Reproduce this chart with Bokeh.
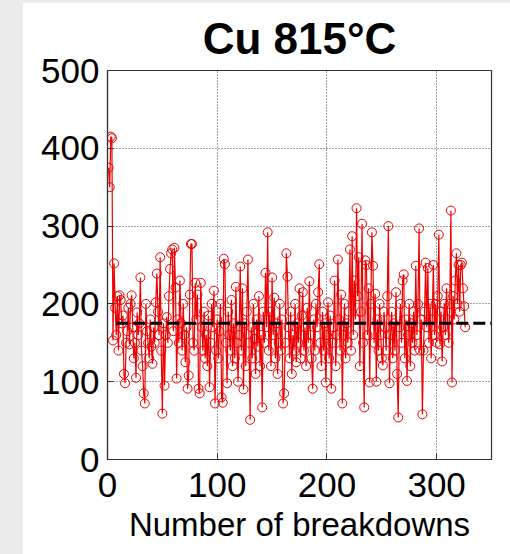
from bokeh.plotting import figure
from bokeh.layouts import column
from bokeh.models import Range1d, FixedTicker
from bokeh.embed import file_html
from bokeh.resources import INLINE

# Labels and axis ticks
title_text = "Cu 815°C"
x_label = "Number of breakdowns"
x_ticks = [0, 100, 200, 300]
y_ticks = [0, 100, 200, 300, 400, 500]
grid_x = [100, 200, 300]
grid_y = [100, 200, 300, 400]

# Breakdown field for each successive breakdown event
breakdown_value = [
    375, 350, 415, 413, 153, 252, 195, 160, 210, 140,
    211, 205, 175, 185, 110, 98, 150, 165, 195, 148,
    200, 211, 170, 130, 150, 105, 189, 160, 175, 234,
    140, 120, 85, 72, 200, 165, 150, 130, 180, 145,
    123, 170, 150, 202, 239, 190, 160, 260, 140, 59,
    175, 95, 160, 183, 150, 210, 245, 265, 270, 165,
    272, 221, 104, 180, 150, 230, 175, 140, 200, 160,
    125, 170, 91, 108, 212, 277, 277, 150, 140, 227,
    180, 212, 91, 85, 227, 170, 140, 190, 130, 160,
    120, 185, 93, 150, 200, 170, 217, 72, 140, 180,
    130, 165, 200, 80, 73, 258, 251, 150, 98, 190,
    160, 140, 205, 120, 175, 130, 222, 150, 100, 160,
    248, 140, 220, 90, 175, 120, 190, 257, 150, 51,
    170, 130, 200, 155, 110, 180, 145, 210, 120, 160,
    67, 190, 150, 240, 170, 292, 140, 190, 120, 234,
    160, 208, 130, 175, 110, 150, 200, 140, 180, 72,
    85, 150, 265, 235, 170, 130, 190, 110, 160, 140,
    200, 125, 175, 150, 220, 130, 185, 215, 140, 170,
    120, 195, 150, 229, 160, 130, 91, 180, 140, 200,
    170, 215, 251, 150, 120, 190, 140, 175, 99, 160,
    202, 130, 185, 91, 150, 170, 230, 120, 160, 257,
    180, 140, 212, 72, 160, 200, 130, 175, 150, 190,
    270, 140, 287, 160, 230, 180, 323, 210, 260, 120,
    190, 303, 150, 67, 256, 250, 160, 220, 99, 200,
    292, 249, 150, 213, 100, 180, 140, 200, 160, 130,
    121, 190, 170, 140, 210, 300, 98, 160, 190, 130,
    175, 140, 215, 110, 54, 170, 200, 150, 230, 238,
    130, 180, 101, 160, 200, 120, 175, 150, 190, 140,
    249, 160, 200, 297, 140, 180, 58, 140, 190, 253,
    170, 246, 150, 200, 130, 180, 250, 160, 200, 150,
    210, 289, 148, 190, 126, 170, 200, 160, 220, 180,
    150, 200, 320, 99, 210, 180, 230, 265, 200, 250,
    190, 250, 253, 220, 197, 170,
]
breakdown_number = list(range(1, len(breakdown_value) + 1))

# Average level and the span over which it is drawn
mean_level = 175
mean_span = [8, 350]

FONT = "Liberation Sans"

p = figure(
    width=488, height=552,
    output_backend="svg", toolbar_location=None,
    x_range=Range1d(0, 350), y_range=Range1d(0, 500),
    min_border_left=85, min_border_right=19,
    min_border_top=68, min_border_bottom=95,
    background_fill_color="white", border_fill_color="white",
)
p.margin = (2, 0, 0, 22)

p.title.text = title_text
p.title.text_font = FONT
p.title.text_font_size = "44px"
p.title.text_font_style = "bold"
p.title.align = "center"
p.title.text_color = "black"
p.title.standoff = 16

p.outline_line_color = "#333333"
p.outline_line_width = 1.2

# Dotted grid
p.xgrid.ticker = FixedTicker(ticks=grid_x)
p.ygrid.ticker = FixedTicker(ticks=grid_y)
for g in (p.xgrid, p.ygrid):
    g.grid_line_color = "#444444"
    g.grid_line_dash = "1 2"
    g.grid_line_width = 1

# Axes
p.xaxis.ticker = FixedTicker(ticks=x_ticks)
p.yaxis.ticker = FixedTicker(ticks=y_ticks)
p.xaxis.axis_label = x_label
for ax in (p.xaxis, p.yaxis):
    ax.axis_line_color = "#333333"
    ax.axis_line_width = 1.2
    ax.major_tick_in = 6
    ax.major_tick_out = 0
    ax.major_tick_line_color = "#333333"
    ax.minor_tick_line_color = None
    ax.major_label_text_font = FONT
    ax.major_label_text_font_size = "35px"
    ax.major_label_text_color = "black"
    ax.axis_label_text_font = FONT
    ax.axis_label_text_font_size = "33px"
    ax.axis_label_text_font_style = "normal"
    ax.axis_label_text_color = "black"
p.xaxis.major_label_standoff = 13
p.yaxis.major_label_standoff = 8
p.xaxis.axis_label_standoff = 6

# Series
p.line(breakdown_number, breakdown_value, line_color="#ee0000", line_width=1.2)
p.scatter(breakdown_number, breakdown_value, marker="circle", size=9,
          line_color="#ee0000", line_width=1, fill_color=None)

# Mean level
p.line(mean_span, [mean_level, mean_level], line_color="black",
       line_width=3, line_dash="12 5")

layout = column(p, styles={"background-color": "#ebebeb"}, width=510, height=554)

open("out.html", "w").write(file_html(layout, INLINE))
